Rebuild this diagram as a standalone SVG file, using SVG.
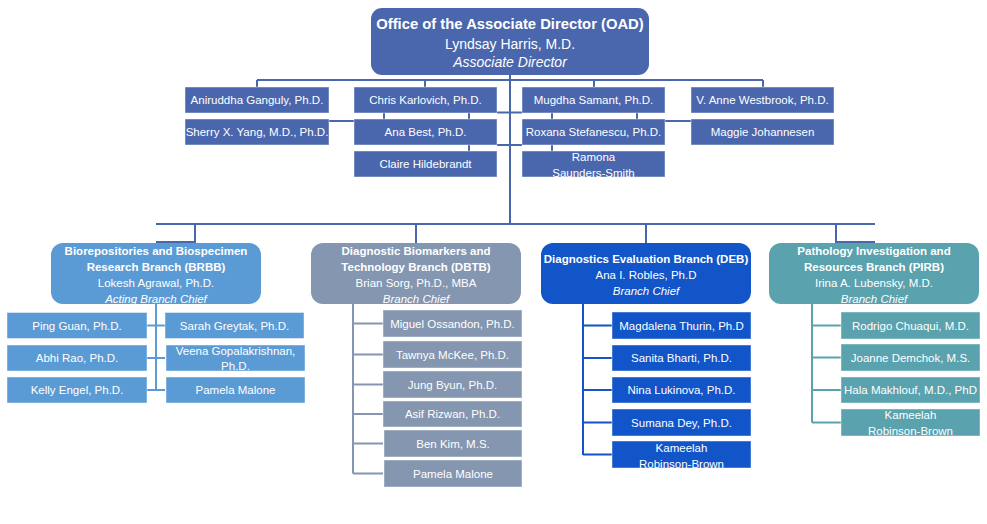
<svg xmlns="http://www.w3.org/2000/svg" width="987" height="524" viewBox="0 0 987 524">
<style>
text{font-family:"Liberation Sans",Arial,sans-serif;fill:#fff;text-anchor:middle;font-size:11.5px}
.b{font-weight:bold}
.i{font-style:italic}
.o{font-size:14px}
.ob{font-size:14.8px;font-weight:bold}
.sb{stroke:#fff;stroke-opacity:.45;stroke-width:1}
.top{fill:#4a66ad}
.brrb{fill:#5b9bd5}
.dbtb{fill:#8496b0}
.deb{fill:#1155c8}
.pirb{fill:#5aa2ae}
.c{fill:none;stroke-width:2}
.ct{stroke:#4a66ad}
.cb{stroke:#5b9bd5}
.cd{stroke:#8496b0}
.ce{stroke:#1155c8}
.cp{stroke:#5aa2ae}
</style>
<rect width="987" height="524" fill="#fff"/>
<g id="connectors">
<path class="c ct" d="M510 75V224M257 80H763M257 80V87M425 80V87M594 80V87M763 80V87"/>
<path class="c ct" d="M384 113V119M469 113V119M469 145V151M552 113V119M637 113V119M552 145V151"/>
<path class="c ct" d="M329 121H354M665 121H691M497 112.5H522M497 145H522"/>
<path class="c ct" d="M156 224H875M195 224V242H156M836 224V242H875M416 224V243M646 224V243"/>
<path class="c cb" d="M156 304V390M147 325.5H165M147 358H165M147 390H165"/>
<path class="c cd" d="M353 304V473.5M353 323.5H383M353 354.5H383M353 384.5H383M353 414H383M353 443.5H383M353 473.5H383"/>
<path class="c ce" d="M583 304V455M583 325.5H612M583 358H612M583 390H612M583 422.5H612M583 454.5H612"/>
<path class="c cp" d="M812 304V422.5M812 325.5H841M812 357.5H841M812 390H841M812 422.5H841"/>
</g>
<g id="oad"><rect class="top" x="371" y="8" width="278" height="67" rx="11"/>
<text class="ob" x="510" y="29">Office of the Associate Director (OAD)</text>
<text class="o" x="510" y="49">Lyndsay Harris, M.D.</text>
<text class="o i" x="510" y="67">Associate Director</text></g>
<g id="ganguly"><rect class="top sb" x="185" y="87" width="144" height="26"/><text x="257" y="104">Aniruddha Ganguly, Ph.D.</text></g>
<g id="karlovich"><rect class="top sb" x="354" y="87" width="143" height="26"/><text x="425.5" y="104">Chris Karlovich, Ph.D.</text></g>
<g id="samant"><rect class="top sb" x="522" y="87" width="143" height="26"/><text x="593.5" y="104">Mugdha Samant, Ph.D.</text></g>
<g id="westbrook"><rect class="top sb" x="691" y="87" width="143" height="26"/><text x="762.5" y="104">V. Anne Westbrook, Ph.D.</text></g>
<g id="yang"><rect class="top sb" x="185" y="119" width="144" height="26"/><text x="257" y="136">Sherry X. Yang, M.D., Ph.D.</text></g>
<g id="best"><rect class="top sb" x="354" y="119" width="143" height="26"/><text x="425.5" y="136">Ana Best, Ph.D.</text></g>
<g id="stefanescu"><rect class="top sb" x="522" y="119" width="143" height="26"/><text x="593.5" y="136">Roxana Stefanescu, Ph.D.</text></g>
<g id="johannesen"><rect class="top sb" x="691" y="119" width="143" height="26"/><text x="762.5" y="136">Maggie Johannesen</text></g>
<g id="hildebrandt"><rect class="top sb" x="354" y="151" width="143" height="26"/><text x="425.5" y="168">Claire Hildebrandt</text></g>
<g id="saunders-smith"><rect class="top sb" x="522" y="151" width="143" height="26"/><text x="593.5" y="161">Ramona</text><text x="593.5" y="177">Saunders-Smith</text></g>

<g id="brrb"><rect class="brrb" x="51" y="243" width="210" height="61" rx="12"/>
<text class="b" x="156" y="255">Biorepositories and Biospecimen</text>
<text class="b" x="156" y="271">Research Branch (BRBB)</text>
<text x="156" y="287">Lokesh Agrawal, Ph.D.</text>
<text class="i" x="156" y="302.5">Acting Branch Chief</text></g>
<g id="guan"><rect class="brrb sb" x="7" y="312.5" width="140" height="26"/><text x="77" y="329.5">Ping Guan, Ph.D.</text></g>
<g id="rao"><rect class="brrb sb" x="7" y="345" width="140" height="26"/><text x="77" y="362">Abhi Rao, Ph.D.</text></g>
<g id="engel"><rect class="brrb sb" x="7" y="377" width="140" height="26"/><text x="77" y="394">Kelly Engel, Ph.D.</text></g>
<g id="greytak"><rect class="brrb sb" x="165" y="312.5" width="139" height="26"/><text x="234.5" y="329.5">Sarah Greytak, Ph.D.</text></g>
<g id="gopalakrishnan"><rect class="brrb sb" x="166" y="345" width="139" height="26"/><text x="235.5" y="355">Veena Gopalakrishnan,</text><text x="235.5" y="370">Ph.D.</text></g>
<g id="malone1"><rect class="brrb sb" x="166" y="377" width="139" height="26"/><text x="235.5" y="394">Pamela Malone</text></g>

<g id="dbtb"><rect class="dbtb" x="311" y="243" width="210" height="61" rx="12"/>
<text class="b" x="416" y="255">Diagnostic Biomarkers and</text>
<text class="b" x="416" y="271">Technology Branch (DBTB)</text>
<text x="416" y="287">Brian Sorg, Ph.D., MBA</text>
<text class="i" x="416" y="302.5">Branch Chief</text></g>
<g id="ossandon"><rect class="dbtb sb" x="383" y="310" width="139" height="27"/><text x="452.5" y="327.5">Miguel Ossandon, Ph.D.</text></g>
<g id="mckee"><rect class="dbtb sb" x="383" y="341" width="139" height="27"/><text x="452.5" y="358.5">Tawnya McKee, Ph.D.</text></g>
<g id="byun"><rect class="dbtb sb" x="383" y="371" width="139" height="27"/><text x="452.5" y="388.5">Jung Byun, Ph.D.</text></g>
<g id="rizwan"><rect class="dbtb sb" x="383" y="401" width="139" height="26"/><text x="452.5" y="418">Asif Rizwan, Ph.D.</text></g>
<g id="kim"><rect class="dbtb sb" x="384" y="430" width="138" height="27"/><text x="453" y="447.5">Ben Kim, M.S.</text></g>
<g id="malone2"><rect class="dbtb sb" x="384" y="460" width="138" height="27"/><text x="453" y="477.5">Pamela Malone</text></g>

<g id="deb"><rect class="deb" x="541" y="243" width="210" height="61" rx="12"/>
<text class="b" x="646" y="263">Diagnostics Evaluation Branch (DEB)</text>
<text x="646" y="279">Ana I. Robles, Ph.D</text>
<text class="i" x="646" y="295">Branch Chief</text></g>
<g id="thurin"><rect class="deb sb" x="612" y="312" width="139" height="27"/><text x="681.5" y="329.5">Magdalena Thurin, Ph.D</text></g>
<g id="bharti"><rect class="deb sb" x="612" y="345" width="139" height="26"/><text x="681.5" y="362">Sanita Bharti, Ph.D.</text></g>
<g id="lukinova"><rect class="deb sb" x="612" y="377" width="139" height="26"/><text x="681.5" y="394">Nina Lukinova, Ph.D.</text></g>
<g id="dey"><rect class="deb sb" x="612" y="409" width="139" height="27"/><text x="681.5" y="426.5">Sumana Dey, Ph.D.</text></g>
<g id="robinson-brown1"><rect class="deb sb" x="612" y="441" width="139" height="27"/><text x="681.5" y="452">Kameelah</text><text x="681.5" y="467.5">Robinson-Brown</text></g>

<g id="pirb"><rect class="pirb" x="769" y="243" width="210" height="61" rx="12"/>
<text class="b" x="874" y="255">Pathology Investigation and</text>
<text class="b" x="874" y="271">Resources Branch (PIRB)</text>
<text x="874" y="287">Irina A. Lubensky, M.D.</text>
<text class="i" x="874" y="302.5">Branch Chief</text></g>
<g id="chuaqui"><rect class="pirb sb" x="841" y="312" width="139" height="27"/><text x="910.5" y="329.5">Rodrigo Chuaqui, M.D.</text></g>
<g id="demchok"><rect class="pirb sb" x="841" y="344" width="139" height="27"/><text x="910.5" y="361.5">Joanne Demchok, M.S.</text></g>
<g id="makhlouf"><rect class="pirb sb" x="841" y="377" width="139" height="26"/><text x="910.5" y="394">Hala Makhlouf, M.D., PhD</text></g>
<g id="robinson-brown2"><rect class="pirb sb" x="841" y="409" width="139" height="27"/><text x="910.5" y="419">Kameelah</text><text x="910.5" y="435">Robinson-Brown</text></g>
</svg>
